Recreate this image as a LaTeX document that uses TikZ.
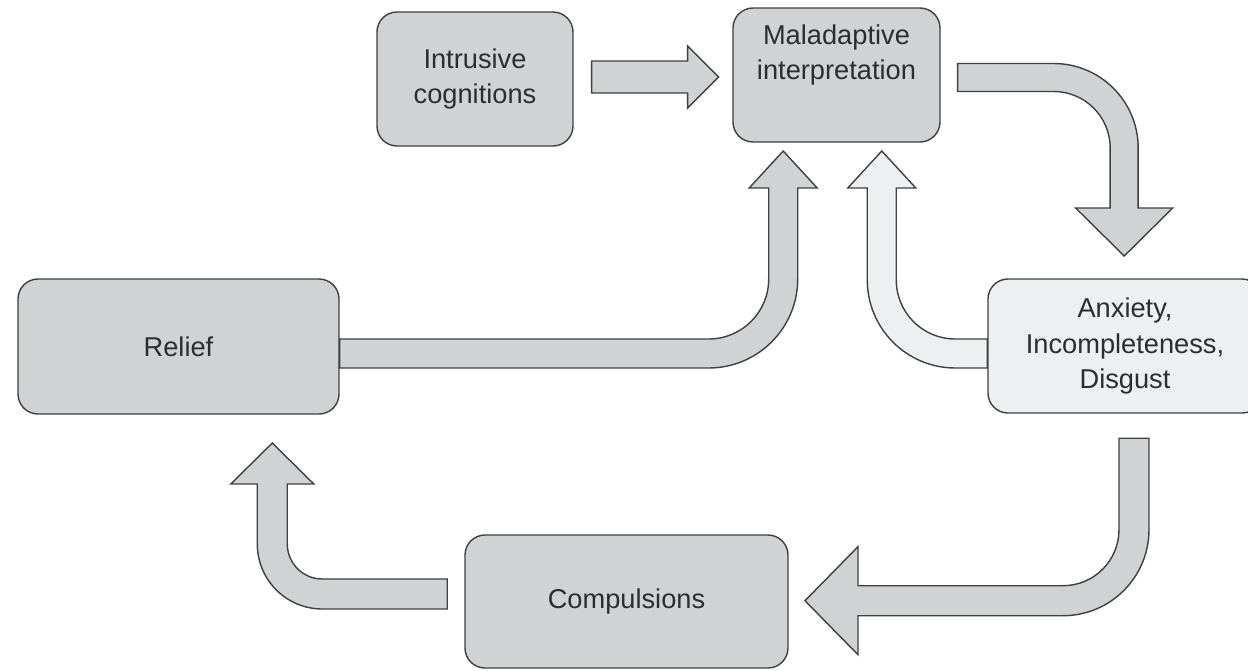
\documentclass[tikz,border=0pt]{standalone}
\usepackage{fontspec}
\setmainfont{Liberation Sans}
\usepackage{tikz}
\usetikzlibrary{calc}

\definecolor{boxgray}{RGB}{208,210,212}
\definecolor{boxlight}{RGB}{238,239,240}
\definecolor{edgegray}{RGB}{64,64,64}
\definecolor{textgray}{RGB}{45,45,45}

\begin{document}
\begin{tikzpicture}[scale=0.2]
\tikzstyle{every node}+=[inner sep=0pt, text=textgray, font=\fontsize{15.5}{20}\selectfont, align=center]
\tikzstyle{box}=[draw=edgegray, line width=0.8pt, fill=boxgray, rounded corners=0.4cm, minimum height=2.68cm]
\tikzstyle{arrowfill}=[draw=edgegray, line width=0.8pt, fill=boxgray, line join=miter]
\useasboundingbox (0,0) rectangle (124.8,-67);
\node [box, minimum width=3.92cm] (intr) at (47.5,-7.9) {Intrusive\\cognitions};
\node [box, minimum width=4.14cm] (mal) at (83.65,-7.5) {};
\node [yshift=0.4cm] (maltext) at (mal) {Maladaptive\\interpretation};
\node [box, fill=boxlight, minimum width=5.48cm] (anx) at (112.5,-34.6) {Anxiety,\\Incompleteness,\\Disgust};
\node [box, minimum width=6.42cm, minimum height=2.7cm] (rel) at (17.85,-34.65) {Relief};
\node [box, minimum width=6.46cm, minimum height=2.66cm] (comp) at (62.65,-60.15) {Compulsions};
% intrusive -> maladaptive
\draw [arrowfill] ($(intr.east)+(1.8,1.8)$) -- ++(9.6,0) -- ++(0,1.5) -- ++(3.1,-3.1)
  -- ++(-3.1,-3.1) -- ++(0,1.5) -- ++(-9.6,0) -- cycle;
% maladaptive -> anxiety
\draw [arrowfill] ($(mal.east)+(1.7,1.15)$) -- ++(9.6,0) arc[start angle=90, end angle=0, radius=8.45]
  -- ++(0,-6) -- ++(3.45,0) -- ++(-4.85,-4.8) -- ++(-4.85,4.8) -- ++(3.45,0) -- ++(0,6)
  arc[start angle=0, end angle=90, radius=5.65] -- ++(-9.6,0) -- cycle;
% anxiety -> maladaptive
\draw [arrowfill, fill=boxlight] ($(anx.west)+(0,0.7)$) -- ++(-3.2,0) arc[start angle=270, end angle=180, radius=5.9]
  -- ++(0,9.2) -- ++(1.95,0) -- ++(-3.4,3.7) -- ++(-3.4,-3.7) -- ++(1.95,0) -- ++(0,-9.2)
  arc[start angle=180, end angle=270, radius=8.8] -- ++(3.2,0) -- cycle;
% relief -> maladaptive
\draw [arrowfill] ($(rel.east)+(0,0.75)$) -- ++(36.9,0) arc[start angle=270, end angle=360, radius=6]
  -- ++(0,9.1) -- ++(-1.95,0) -- ++(3.4,3.7) -- ++(3.4,-3.7) -- ++(-1.95,0) -- ++(0,-9.1)
  arc[start angle=0, end angle=-90, radius=8.9] -- ++(-36.9,0) -- cycle;
% anxiety -> compulsions
\draw [arrowfill] ($(anx.south)+(-0.6,-2.45)$) -- ++(3,0) -- ++(0,-9.15) arc[start angle=0, end angle=-90, radius=8.6]
  -- ++(-20.5,0) -- ++(0,-3.9) -- ++(-5.3,5.4) -- ++(5.3,5.4) -- ++(0,-3.9) -- ++(20.5,0)
  arc[start angle=270, end angle=360, radius=5.6] -- cycle;
% compulsions -> relief
\draw [arrowfill] ($(comp.west)+(-1.7,2.25)$) -- ++(-12.5,0) arc[start angle=270, end angle=180, radius=3.5]
  -- ++(0,6) -- ++(2.65,0) -- ++(-4.15,4.1) -- ++(-4.15,-4.1) -- ++(2.65,0) -- ++(0,-6)
  arc[start angle=180, end angle=270, radius=6.5] -- ++(12.5,0) -- cycle;
\end{tikzpicture}
\end{document}
